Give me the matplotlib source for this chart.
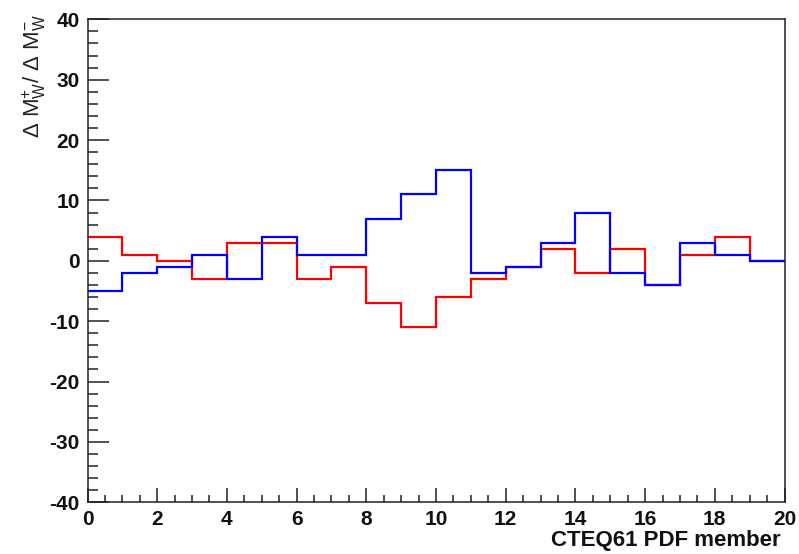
import numpy as np
import matplotlib
matplotlib.use("Agg")
import matplotlib.pyplot as plt
from matplotlib.ticker import MultipleLocator

# Shift of W mass fit per CTEQ61 PDF eigenvector member
members = np.arange(0, 21)
delta_red = [4, 1, 0, -3, 3, 3, -3, -1, -7, -11, -6, -3, -1, 2, -2, 2, -4, 1, 4, 0]
delta_blue = [-5, -2, -1, 1, -3, 4, 1, 1, 7, 11, 15, -2, -1, 3, 8, -2, -4, 3, 1, 0]

x_label = "CTEQ61 PDF member"
y_label = r"$\Delta\ \mathrm{M}_\mathrm{W}^{+}/\ \Delta\ \mathrm{M}_\mathrm{W}^{-}$"

plt.rcParams["font.family"] = ["Liberation Sans", "DejaVu Sans"]
plt.rcParams["axes.unicode_minus"] = False
plt.rcParams["mathtext.fontset"] = "custom"
plt.rcParams["mathtext.rm"] = "Liberation Sans"
plt.rcParams["mathtext.it"] = "Liberation Sans"
plt.rcParams["mathtext.bf"] = "Liberation Sans:bold"

W, H = 799, 554
fig = plt.figure(figsize=(W / 100, H / 100), dpi=100)
left, right, top, bottom = 87.5, 784.5, 19.3, 502.3
ax = fig.add_axes([left / W, 1 - bottom / H, (right - left) / W, (bottom - top) / H])

ax.stairs(delta_red, members, color="#ff0000", lw=1.6, baseline=None, zorder=2)
ax.stairs(delta_blue, members, color="#0000ff", lw=1.6, baseline=None, zorder=3)

ax.set_xlim(0, 20)
ax.set_ylim(-40, 40)
ax.xaxis.set_major_locator(MultipleLocator(2))
ax.xaxis.set_minor_locator(MultipleLocator(0.5))
ax.yaxis.set_major_locator(MultipleLocator(10))
ax.yaxis.set_minor_locator(MultipleLocator(2))

for s in ax.spines.values():
    s.set_linewidth(1.1)
    s.set_color("#222222")

ax.tick_params(axis="x", which="major", direction="in", length=10.4, width=1.1,
               color="#222222", labelsize=15, pad=5.5)
ax.tick_params(axis="x", which="minor", direction="in", length=5.2, width=1.1, color="#222222")
ax.tick_params(axis="y", which="major", direction="in", length=15, width=1.1,
               color="#222222", labelsize=15, pad=5.5)
ax.tick_params(axis="y", which="minor", direction="in", length=7.5, width=1.1, color="#222222")
for lab in ax.get_xticklabels() + ax.get_yticklabels():
    lab.set_fontweight("bold")
    lab.set_color("#111111")

fig.text(781 / W, 1 - 540.5 / H, x_label, ha="right", va="center",
         fontsize=16, fontweight="bold", color="#111111")
fig.text(34 / W, 1 - 14 / H, y_label, ha="center", va="top", rotation=90,
         fontsize=16, color="#222222")

fig.savefig("out.png", dpi=100, facecolor="white")
